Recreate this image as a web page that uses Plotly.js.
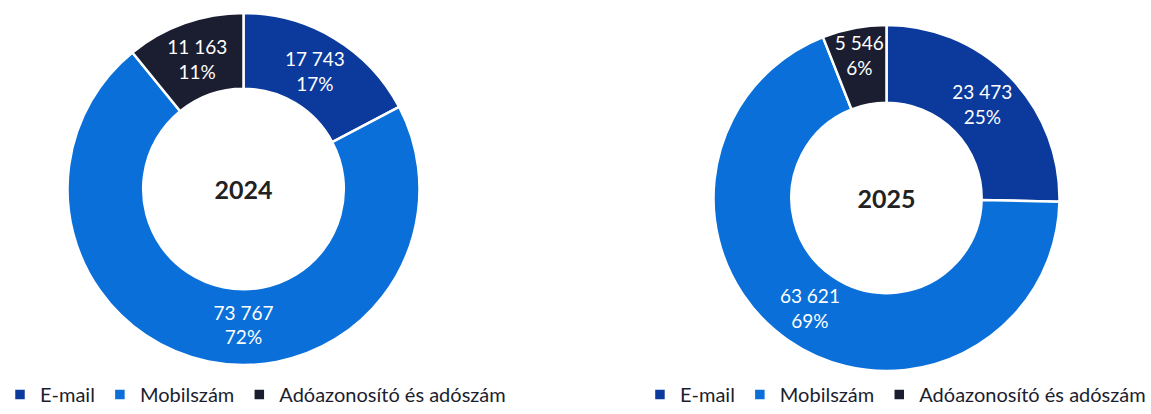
<!DOCTYPE html>
<html>
<head>
<meta charset="utf-8">
<script src="https://cdn.plot.ly/plotly-3.0.1.min.js"></script>
<style>html,body{margin:0;padding:0;background:#fff;}#chart{width:1151px;height:414px;}</style>
</head>
<body>
<div id="chart"></div>
<script>
const categories = ['E-mail', 'Mobilszám', 'Adóazonosító és adószám'];
const values2024 = [17743, 73767, 11163];
const values2025 = [23473, 63621, 5546];
const years = ['2024', '2025'];
const colors = ['#0b3a9c', '#0a6fd8', '#1b1e30'];

function fmt(v) { return String(v).replace(/\B(?=(\d{3})+(?!\d))/g, ' '); }
function labelsFor(vals) {
  const tot = vals.reduce((a, b) => a + b, 0);
  return vals.map(v => fmt(v) + '<br>' + Math.round(v / tot * 100) + '%');
}

const common = {
  type: 'pie',
  labels: categories,
  sort: false,
  direction: 'clockwise',
  rotation: 0,
  marker: { colors: colors, line: { color: '#ffffff', width: 2.5 } },
  textinfo: 'text',
  textposition: 'inside',
  insidetextorientation: 'horizontal',
  textfont: { family: 'Lato, "Open Sans", sans-serif', size: 19, color: '#ffffff' },
  hoverinfo: 'label+value+percent'
};

const data = [
  Object.assign({}, common, {
    values: values2024,
    text: labelsFor(values2024),
    hole: 0.57,
    domain: { x: [0.0586, 0.3645], y: [0.1184, 0.9686] },
    title: { text: '<b>' + years[0] + '</b>', position: 'middle center',
             font: { family: 'Lato, sans-serif', size: 25, color: '#222222' } },
    legend: 'legend',
    legendgroup: 'y2024'
  }),
  Object.assign({}, common, {
    values: values2025,
    text: labelsFor(values2025),
    hole: 0.55,
    domain: { x: [0.6199, 0.9205], y: [0.1039, 0.9396] },
    title: { text: '<b>' + years[1] + '</b>', position: 'middle center',
             font: { family: 'Lato, sans-serif', size: 25, color: '#222222' } },
    legend: 'legend2',
    legendgroup: 'y2025'
  })
];

const legendBase = {
  orientation: 'h',
  yanchor: 'bottom',
  y: 0,
  xanchor: 'left',
  font: { family: 'Lato, "Open Sans", sans-serif', size: 20, color: '#1b1e30' },
  itemwidth: 30,
  bgcolor: 'rgba(0,0,0,0)',
  traceorder: 'normal'
};

const layout = {
  width: 1151,
  height: 414,
  margin: { l: 0, r: 0, t: 0, b: 0 },
  paper_bgcolor: '#ffffff',
  showlegend: true,
  uniformtext: { mode: 'show', minsize: 19 },
  legend: Object.assign({}, legendBase, { x: 0 }),
  legend2: Object.assign({}, legendBase, { x: 0.556 })
};

Plotly.newPlot('chart', data, layout, { displayModeBar: false, staticPlot: true });
</script>
</body>
</html>
